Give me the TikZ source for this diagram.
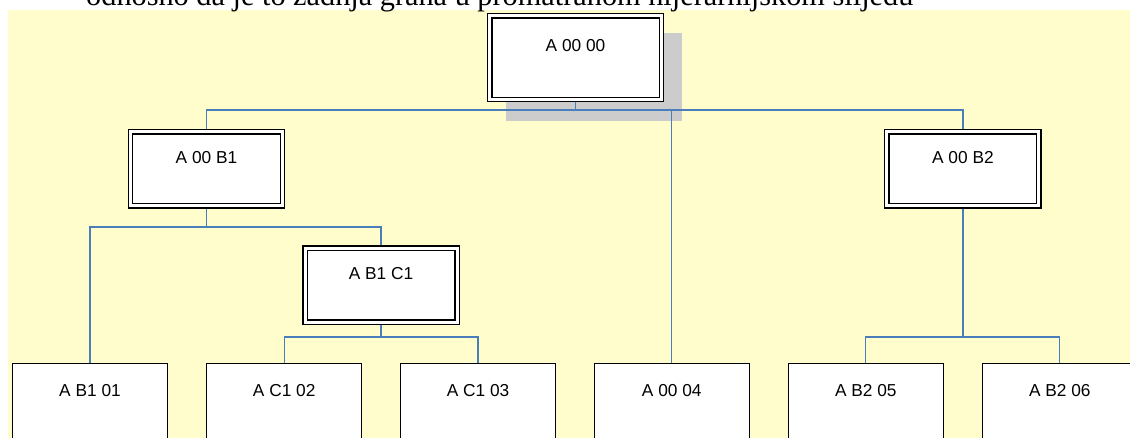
\documentclass[tikz,border=0pt]{standalone}
\usepackage{fontspec}
\setmainfont{Liberation Sans}
\newfontfamily\titleserif{Liberation Serif}
\definecolor{bgyellow}{RGB}{255,253,204}
\definecolor{shadowgray}{RGB}{204,204,204}
\definecolor{linkblue}{RGB}{74,126,187}
\newcommand{\boxfont}{\fontsize{17.3}{20}\selectfont}
\pgfdeclarelayer{bglayer}
\pgfdeclarelayer{linelayer}
\pgfsetlayers{bglayer,linelayer,main}
\tikzset{
  dbox/.style={draw=black, line width=1.3pt, double=white, double distance=3pt,
    fill=white, inner sep=0pt, outer sep=0pt, minimum width=152pt,
    text height=32pt, text depth=42pt, anchor=north, font=\boxfont},
  leafbox/.style={draw=black, line width=1.3pt, fill=white, inner sep=0pt, outer sep=0pt,
    minimum width=155pt, text height=33pt, text depth=100pt, anchor=north, font=\boxfont},
  link/.style={draw=linkblue, line width=1.3pt},
}
\begin{document}
\begin{tikzpicture}[x=1pt,y=-1pt]
\useasboundingbox (0,0) rectangle (1130,438);
\clip (0,0) rectangle (1130,438);
\begin{pgfonlayer}{bglayer}
  \fill[bgyellow] (8,10) rectangle (1132,440);
  \fill[shadowgray] (506,33) rectangle (682,121);
\end{pgfonlayer}
% caption line cut at the top
\node[anchor=base west, inner sep=0pt, font=\titleserif\fontsize{30.3}{34}\selectfont] (cap) at (86,5.5)
  {odnosno da je to zadnja grana u promatranom hijerarhijskom slijedu};
% double-bordered boxes
\node[dbox, minimum width=171.6pt, text height=35.4pt, text depth=48.3pt] (root) at (575.5,15.8) {A 00 00};
\node[dbox] (n1) at (206.5,132) {A 00 B1};
\node[dbox] (n2) at (962.9,132) {A 00 B2};
\node[dbox, text height=31.2pt, text depth=42.7pt] (c1) at (381,248.3) {A B1 C1};
% leaf boxes
\node[leafbox] (l1) at (90,363.3) {A B1 01};
\node[leafbox] (l2) at (284.2,363.3) {A C1 02};
\node[leafbox] (l3) at (478,363.3) {A C1 03};
\node[leafbox] (l4) at (671.8,363.3) {A 00 04};
\node[leafbox] (l5) at (865.8,363.3) {A B2 05};
\node[leafbox] (l6) at (1059.8,363.3) {A B2 06};
% connectors
\coordinate (r0) at (575.5,110);
\coordinate (p1) at (206.5,227);
\coordinate (q1) at (381,337);
\coordinate (s1) at (962.9,337);
\begin{pgfonlayer}{linelayer}
  \draw[link] (root.south) -- (r0) -| (n1.north);
  \draw[link] (r0) -| (n2.north);
  \draw[link] (r0) -| (l4.north);
  \draw[link] (n1.south) -- (p1) -| (l1.north);
  \draw[link] (p1) -| (c1.north);
  \draw[link] (c1.south) -- (q1) -| (l2.north);
  \draw[link] (q1) -| (l3.north);
  \draw[link] (n2.south) -- (s1) -| (l5.north);
  \draw[link] (s1) -| (l6.north);
\end{pgfonlayer}
\end{tikzpicture}
\end{document}
